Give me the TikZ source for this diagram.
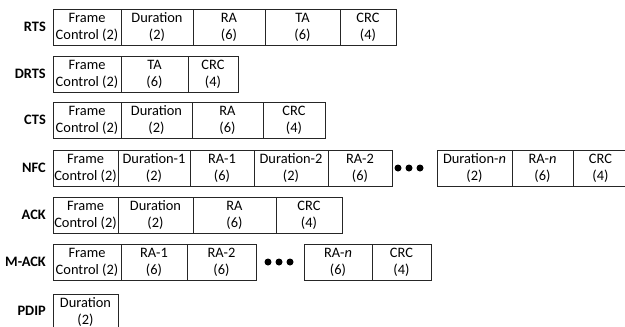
\documentclass[tikz,border=0pt]{standalone}
\usepackage{fontspec}
\setmainfont{Carlito}
\tikzset{
  field/.style={draw=black!85, line width=0.8pt, minimum height=36pt, inner sep=0pt, align=center, font=\fontsize{14.4}{17}\selectfont},
  lbl/.style={anchor=east, inner sep=0pt, font=\fontsize{14.4}{17}\selectfont\bfseries},
  bigdot/.style={circle, fill=black, draw=none, inner sep=0pt, minimum size=7pt}
}
% name, x1, x2, ytop, text
\newcommand\fld[5]{\node[field, minimum width={#3pt-#2pt}] (#1) at ({(#2+#3)/2},{#4+18}) {#5};}
\begin{document}
\begin{tikzpicture}[x=1pt,y=-1pt]
\useasboundingbox (0,0) rectangle (625,327);
% RTS
\node[lbl] (lrts) at (46,27) {RTS};
\fld{rts1}{53}{121}{9}{Frame\\Control (2)}
\fld{rts2}{121}{193}{9}{Duration\\(2)}
\fld{rts3}{193}{265}{9}{RA\\(6)}
\fld{rts4}{265}{340}{9}{TA\\(6)}
\fld{rts5}{340}{396}{9}{CRC\\(4)}
% DRTS
\node[lbl] (ldrts) at (46,74) {DRTS};
\fld{drts1}{53}{121}{56}{Frame\\Control (2)}
\fld{drts2}{121}{188}{56}{TA\\(6)}
\fld{drts3}{188}{238}{56}{CRC\\(4)}
% CTS
\node[lbl] (lcts) at (46,120) {CTS};
\fld{cts1}{53}{121}{102}{Frame\\Control (2)}
\fld{cts2}{121}{192}{102}{Duration\\(2)}
\fld{cts3}{192}{263}{102}{RA\\(6)}
\fld{cts4}{263}{325}{102}{CRC\\(4)}
% NFC
\node[lbl] (lnfc) at (46,168) {NFC};
\fld{nfc1}{53}{118}{150}{Frame\\Control (2)}
\fld{nfc2}{118}{190}{150}{Duration-1\\(2)}
\fld{nfc3}{190}{254}{150}{RA-1\\(6)}
\fld{nfc4}{254}{328}{150}{Duration-2\\(2)}
\fld{nfc5}{328}{392}{150}{RA-2\\(6)}
\node[bigdot] (nd1) at (398,168) {};
\node[bigdot] (nd2) at (409,168) {};
\node[bigdot] (nd3) at (420,168) {};
\fld{nfc6}{437}{512}{150}{Duration-\textit{n}\\(2)}
\fld{nfc7}{512}{573}{150}{RA-\textit{n}\\(6)}
\fld{nfc8}{573}{628}{150}{CRC\\(4)}
% ACK
\node[lbl] (lack) at (46,215) {ACK};
\fld{ack1}{53}{118}{197}{Frame\\Control (2)}
\fld{ack2}{118}{193}{197}{Duration\\(2)}
\fld{ack3}{193}{276}{197}{RA\\(6)}
\fld{ack4}{276}{342}{197}{CRC\\(4)}
% M-ACK
\node[lbl] (lmack) at (46,262) {M-ACK};
\fld{mack1}{53}{121}{244}{Frame\\Control (2)}
\fld{mack2}{121}{187}{244}{RA-1\\(6)}
\fld{mack3}{187}{256}{244}{RA-2\\(6)}
\node[bigdot] (md1) at (268,262) {};
\node[bigdot] (md2) at (279,262) {};
\node[bigdot] (md3) at (290,262) {};
\fld{mack4}{304}{372}{244}{RA-\textit{n}\\(6)}
\fld{mack5}{372}{431}{244}{CRC\\(4)}
% PDIP
\node[lbl] (lpdip) at (46,311) {PDIP};
\fld{pdip1}{53}{118}{294}{Duration\\(2)}
\end{tikzpicture}
\end{document}
